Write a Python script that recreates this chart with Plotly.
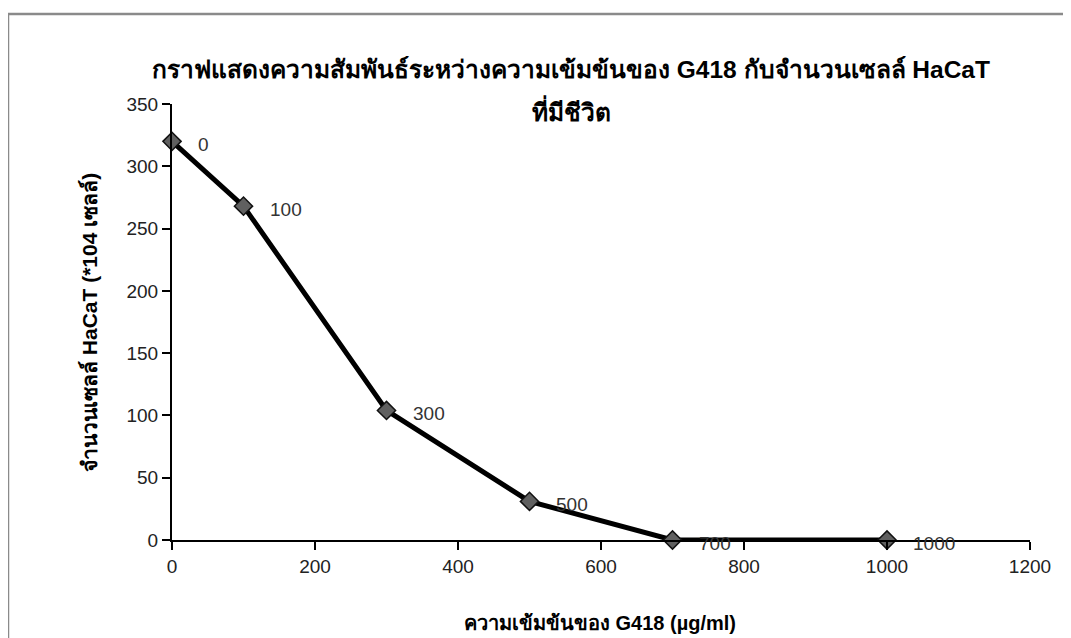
import plotly.graph_objects as go

# Data
concentration = [0, 100, 300, 500, 700, 1000]
cells = [320, 268, 104, 31, 0, 0]
point_labels = ["0", "100", "300", "500", "700", "1000"]

title_line1 = "กราฟแสดงความสัมพันธ์ระหว่างความเข้มข้นของ G418 กับจำนวนเซลล์ HaCaT"
title_line2 = "ที่มีชีวิต"
x_title = "ความเข้มข้นของ G418 (µg/ml)"
y_title = "จำนวนเซลล์ HaCaT (*104 เซลล์)"

x_ticks = [0, 200, 400, 600, 800, 1000, 1200]
y_ticks = [0, 50, 100, 150, 200, 250, 300, 350]

FONT = "Liberation Sans, Tahoma, sans-serif"
# page body adds an 8px margin, so the figure is drawn 8px smaller
OFF = 8
W, H = 1071 - OFF, 638 - OFF
L, R, T, B = 164, 41, 96, 98
pw = W - L - R
ph = H - T - B


def px_to_paper_x(px):
    return (px - OFF - L) / pw


def px_to_paper_y(py):
    return (H - B - (py - OFF)) / ph


fig = go.Figure()
fig.add_trace(go.Scatter(
    x=concentration, y=cells, mode="lines+markers",
    line=dict(color="black", width=5),
    marker=dict(symbol="diamond", size=14, color="#606060",
                line=dict(color="#111111", width=1.5)),
    cliponaxis=False, showlegend=False,
))

annotations = []
for xv, yv, lab in zip(concentration, cells, point_labels):
    annotations.append(dict(x=xv, y=yv, xref="x", yref="y", text=lab,
                            showarrow=False, xanchor="left", yanchor="middle",
                            xshift=24, yshift=-3,
                            font=dict(family=FONT, size=19, color="#333333")))

annotations += [
    dict(x=px_to_paper_x(571), y=px_to_paper_y(70), xref="paper", yref="paper",
         text="<b>" + title_line1 + "</b>", showarrow=False,
         xanchor="center", yanchor="middle",
         font=dict(family=FONT, size=24.5, color="black")),
    dict(x=px_to_paper_x(571), y=px_to_paper_y(110), xref="paper", yref="paper",
         text="<b>" + title_line2 + "</b>", showarrow=False,
         xanchor="center", yanchor="middle",
         font=dict(family=FONT, size=24.5, color="black")),
    dict(x=px_to_paper_x(600), y=px_to_paper_y(623), xref="paper", yref="paper",
         text="<b>" + x_title + "</b>", showarrow=False,
         xanchor="center", yanchor="middle",
         font=dict(family=FONT, size=20, color="black")),
    dict(x=px_to_paper_x(89), y=px_to_paper_y(323), xref="paper", yref="paper",
         text="<b>" + y_title + "</b>", showarrow=False, textangle=-90,
         xanchor="center", yanchor="middle",
         font=dict(family=FONT, size=21, color="black")),
]

border = dict(color="#8a8a8a", width=2.5)
fig.update_layout(
    width=W, height=H,
    margin=dict(l=L, r=R, t=T, b=B),
    paper_bgcolor="white", plot_bgcolor="white",
    font=dict(family=FONT, size=19, color="#222222"),
    annotations=annotations,
    shapes=[
        dict(type="line", xref="paper", yref="paper",
             x0=px_to_paper_x(8), x1=px_to_paper_x(1100),
             y0=px_to_paper_y(14), y1=px_to_paper_y(14), line=border, layer="below"),
        dict(type="line", xref="paper", yref="paper",
             x0=px_to_paper_x(8), x1=px_to_paper_x(8),
             y0=px_to_paper_y(14), y1=px_to_paper_y(700), line=border, layer="below"),
    ],
    xaxis=dict(range=[0, 1200], tickvals=x_ticks, showgrid=False, zeroline=False,
               showline=True, linecolor="black", linewidth=2,
               ticks="outside", ticklen=8, tickwidth=2, tickcolor="black",
               tickfont=dict(family=FONT, size=19, color="#222222"),
               fixedrange=True),
    yaxis=dict(range=[0, 350], tickvals=y_ticks, showgrid=False, zeroline=False,
               showline=True, linecolor="black", linewidth=2,
               ticks="outside", ticklen=8, tickwidth=2, tickcolor="black",
               tickfont=dict(family=FONT, size=19, color="#222222"),
               fixedrange=True),
)

fig.write_html("out.html")
